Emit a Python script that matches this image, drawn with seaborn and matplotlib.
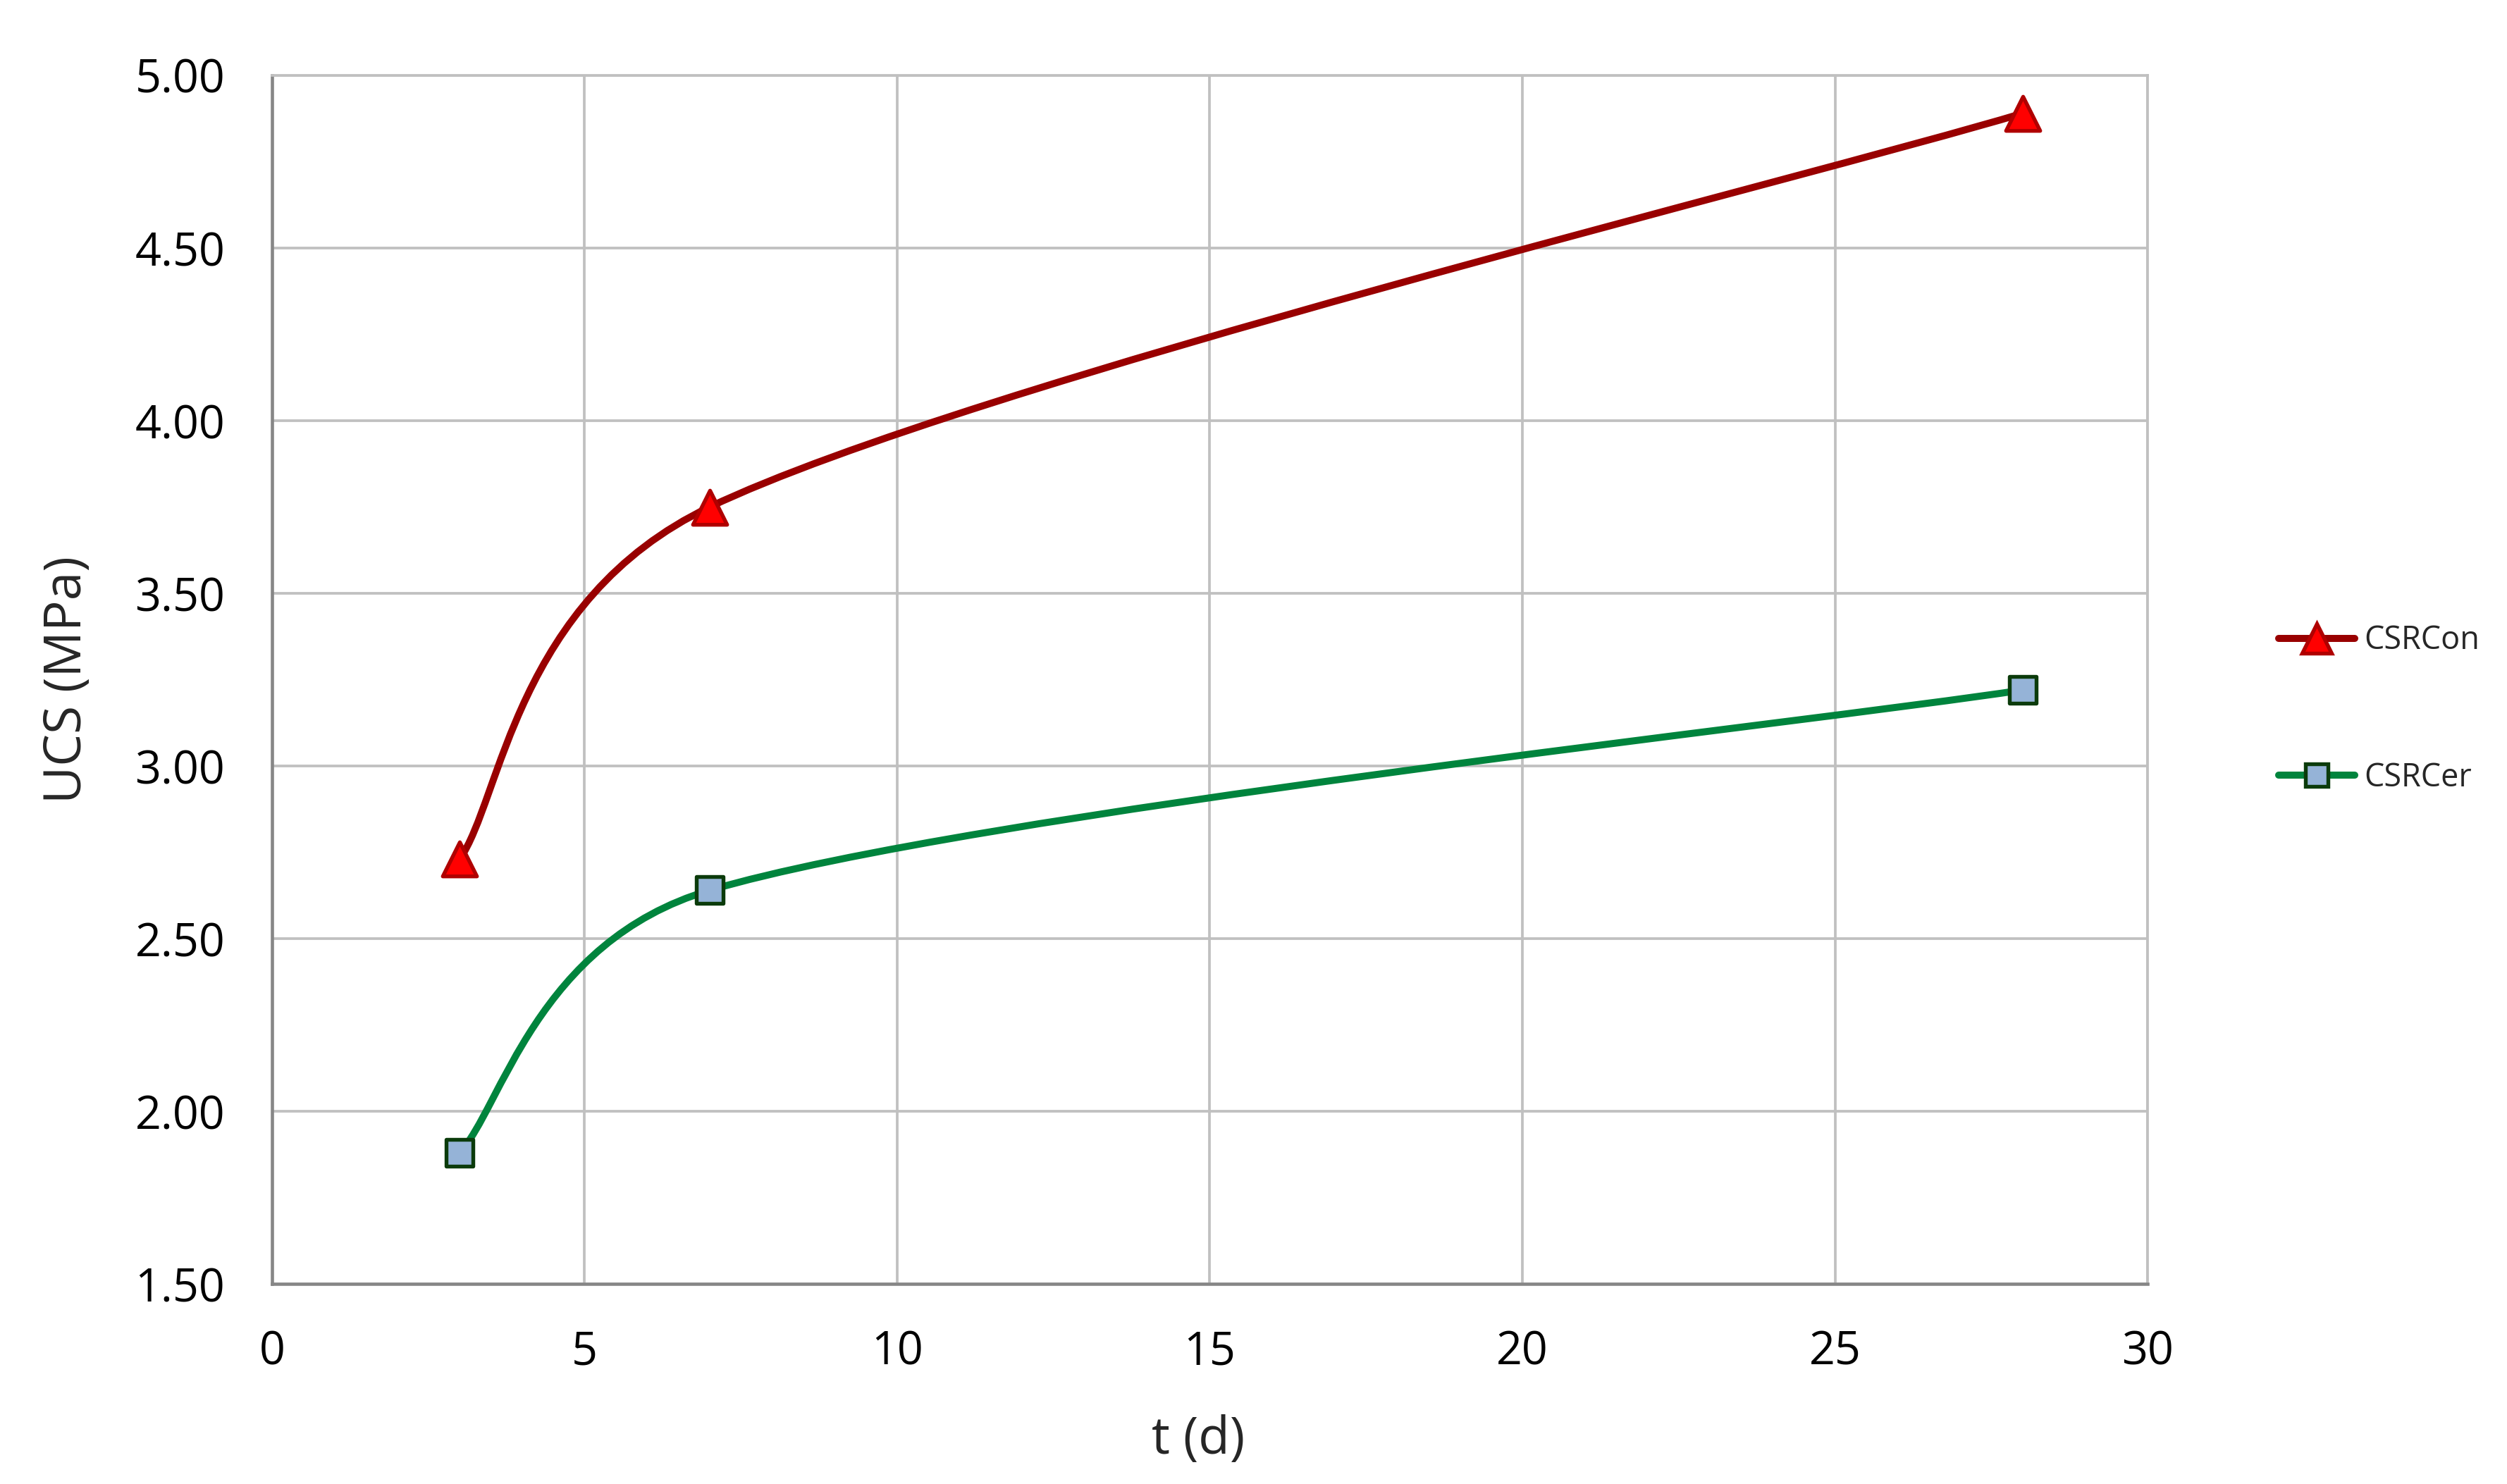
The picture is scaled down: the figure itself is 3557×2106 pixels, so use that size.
import matplotlib
matplotlib.use("Agg")
import matplotlib.pyplot as plt
from matplotlib.path import Path
from matplotlib.patches import PathPatch
from matplotlib.lines import Line2D
import numpy as np
import pandas as pd
import seaborn as sns

# Data
days = [3, 7, 28]
ucs_con = [2.73, 3.75, 4.89]
ucs_cer = [1.88, 2.64, 3.22]
series_names = ["CSRCon", "CSRCer"]
x_ticks = [0, 5, 10, 15, 20, 25, 30]
y_ticks = [1.5, 2.0, 2.5, 3.0, 3.5, 4.0, 4.5, 5.0]

df = pd.DataFrame({
    "t": days + days,
    "UCS": ucs_con + ucs_cer,
    "series": [series_names[0]] * 3 + [series_names[1]] * 3,
})

sns.set_style("white")
plt.rcParams["font.family"] = ["Open Sans", "DejaVu Sans"]

line_col = {"CSRCon": "#990000", "CSRCer": "#00843D"}
face_col = {"CSRCon": "#FF0000", "CSRCer": "#95B3D7"}
edge_col = {"CSRCon": "#B00000", "CSRCer": "#0B3B0B"}
marker = {"CSRCon": "^", "CSRCer": "s"}
msize = {"CSRCon": 135, "CSRCer": 85}


def smooth_path(ax, x, y):
    # Excel-like smoothed line: Catmull-Rom Bezier in screen space,
    # control arms capped at half the segment length
    pts = ax.transData.transform(np.column_stack([x, y]).astype(float))
    n = len(pts)
    verts = [pts[0]]
    codes = [Path.MOVETO]
    for i in range(n - 1):
        p_prev = pts[max(i - 1, 0)]
        p0 = pts[i]
        p1 = pts[i + 1]
        p_next = pts[min(i + 2, n - 1)]
        seg = np.linalg.norm(p1 - p0)
        a1 = (p1 - p_prev) / 6
        a2 = (p_next - p0) / 6
        for a in (a1, a2):
            ln = np.linalg.norm(a)
            if ln > seg / 2:
                a *= (seg / 2) / ln
        verts += [p0 + a1, p1 - a2, p1]
        codes += [Path.CURVE4] * 3
    verts = ax.transData.inverted().transform(np.array(verts))
    return Path(verts, codes)


fig = plt.figure(figsize=(11.857, 7.02), dpi=300)
ax = fig.add_axes([0.1085, 0.1348, 0.7481, 0.8144])
ax.set_xlim(0, 30)
ax.set_ylim(1.5, 5.0)

for name in series_names:
    sub = df[df["series"] == name]
    patch = PathPatch(smooth_path(ax, sub["t"], sub["UCS"]), fill=False,
                      edgecolor=line_col[name], lw=2.4, capstyle="round",
                      joinstyle="round", zorder=3)
    ax.add_patch(patch)
    sns.scatterplot(data=sub, x="t", y="UCS", marker=marker[name],
                    s=msize[name], color=face_col[name],
                    edgecolor=edge_col[name], linewidth=1.3, zorder=4,
                    ax=ax, legend=False)

ax.set_xlim(0, 30)
ax.set_ylim(1.5, 5.0)
ax.set_xticks(x_ticks)
ax.set_yticks(y_ticks)
ax.set_yticklabels([f"{v:.2f}" for v in y_ticks])
ax.grid(True, color="#C0C0C0", lw=0.9)
ax.set_axisbelow(True)
ax.tick_params(axis="both", length=0, labelsize=15.5, colors="black")
ax.tick_params(axis="x", pad=15.5)
ax.tick_params(axis="y", pad=16)
for s in ["top", "right"]:
    ax.spines[s].set_color("#C0C0C0")
    ax.spines[s].set_linewidth(0.9)
for s in ["left", "bottom"]:
    ax.spines[s].set_color("#868686")
    ax.spines[s].set_linewidth(1.1)

ax.set_xlabel("t (d)", fontsize=17.5, labelpad=13)
ax.xaxis.label.set_x(0.494)
ax.set_ylabel("UCS (MPa)", fontsize=17.5, labelpad=14)

handles = [
    Line2D([], [], color=line_col[n], lw=2.4, marker=marker[n],
           markersize=10 if n == "CSRCon" else 7.5,
           markerfacecolor=face_col[n], markeredgecolor=edge_col[n],
           markeredgewidth=1.3)
    for n in series_names
]
fig.legend(handles, series_names, loc="center left",
           bbox_to_anchor=(0.8975, 0.522), frameon=False, fontsize=10.8,
           handlelength=2.4, handletextpad=0.3, labelspacing=3.3)

fig.savefig("out.png", dpi=300)
